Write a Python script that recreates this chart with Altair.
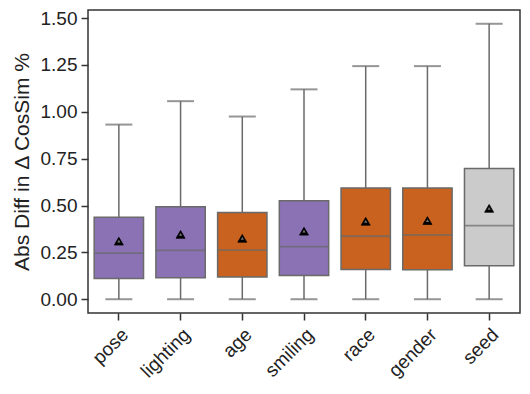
import altair as alt
import pandas as pd

categories = ["pose", "lighting", "age", "smiling", "race", "gender", "seed"]
whisker_low = [0.0, 0.0, 0.0, 0.0, 0.0, 0.0, 0.0]
q1 = [0.110, 0.114, 0.119, 0.127, 0.159, 0.157, 0.179]
median = [0.246, 0.261, 0.262, 0.281, 0.336, 0.343, 0.393]
q3 = [0.438, 0.493, 0.463, 0.525, 0.594, 0.594, 0.697]
whisker_high = [0.932, 1.057, 0.975, 1.120, 1.244, 1.244, 1.470]
mean = [0.310, 0.346, 0.325, 0.363, 0.416, 0.420, 0.485]
group = ["purple", "purple", "orange", "purple", "orange", "orange", "grey"]
palette_keys = ["purple", "orange", "grey"]
palette_colors = ["#8b72b4", "#c8621e", "#cbcbcb"]

df = pd.DataFrame({
    "cat": categories, "lo": whisker_low, "q1": q1, "med": median,
    "q3": q3, "hi": whisker_high, "mean": mean, "grp": group,
})

line_col = "#6a6a6a"
x = alt.X("cat:N", sort=categories, title=None,
          scale=alt.Scale(paddingInner=0.2, paddingOuter=0.1),
          axis=alt.Axis(labelAngle=-45, labelAlign="right", labelBaseline="top",
                        labelFontSize=19, labelColor="#222", tickColor="#333",
                        tickSize=7, tickWidth=1.5, labelPadding=5, domain=False,
                        labelFont="Liberation Sans"))
yscale = alt.Scale(domain=[-0.0735, 1.5435], nice=False, zero=False)
y_axis = alt.Axis(values=[0, 0.25, 0.5, 0.75, 1.0, 1.25, 1.5], format=".2f",
                  title="Abs Diff in Δ CosSim %", titleFontSize=21,
                  titleFontWeight="normal", titleColor="#222", titlePadding=8,
                  labelFontSize=19, labelColor="#222", tickColor="#333",
                  tickSize=7, tickWidth=1.5, labelPadding=4, grid=False,
                  domain=False, labelFont="Liberation Sans", titleFont="Liberation Sans")

base = alt.Chart(df).encode(x=x)

whisk = base.mark_rule(color=line_col, strokeWidth=1.5).encode(
    y=alt.Y("lo:Q", scale=yscale, axis=y_axis), y2="hi:Q")
caps_hi = base.mark_tick(color=line_col, size=27, thickness=2).encode(y=alt.Y("hi:Q", scale=yscale))
caps_lo = base.mark_tick(color=line_col, size=27, thickness=2).encode(y=alt.Y("lo:Q", scale=yscale))
box = base.mark_bar(stroke=line_col, strokeWidth=1.5).encode(
    y=alt.Y("q1:Q", scale=yscale), y2="q3:Q",
    color=alt.Color("grp:N", scale=alt.Scale(domain=palette_keys, range=palette_colors), legend=None))
med = base.mark_tick(color=line_col, thickness=1.8, size=49).encode(y=alt.Y("med:Q", scale=yscale))
mn = base.mark_point(shape="triangle-up", filled=True, color="black", size=80, opacity=1,
                     stroke="black", strokeWidth=0.8).encode(y=alt.Y("mean:Q", scale=yscale))
mn_in = base.mark_point(shape="triangle-up", filled=True, color="#777", size=10, opacity=1).encode(
    y=alt.Y("mean:Q", scale=yscale))

chart = alt.layer(whisk, caps_hi, caps_lo, box, med, mn, mn_in).properties(
    width=432, height=303,
    autosize=alt.AutoSizeParams(type="none"),
    padding={"left": 80, "top": 2, "right": 2, "bottom": 73},
).configure(font="Liberation Sans").configure_view(stroke="#333", strokeWidth=1.5)

chart.save("out.html", embed_options={"renderer": "svg", "actions": False})
